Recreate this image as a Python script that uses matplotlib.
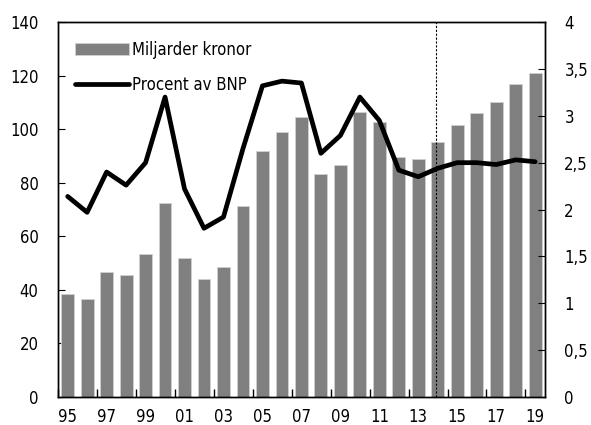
import numpy as np
import matplotlib
matplotlib.use("Agg")
import matplotlib.pyplot as plt

plt.rcParams["font.family"] = ["DejaVu Sans"]
plt.rcParams["font.stretch"] = "condensed"

# Data
years = list(range(1995, 2020))
miljarder = [38.6, 36.4, 46.5, 45.6, 53.3, 72.3, 52.0, 43.9, 48.7, 71.4,
             91.8, 99.0, 104.4, 83.2, 86.6, 106.5, 102.7, 89.5, 88.8, 95.4,
             101.4, 105.9, 110.0, 116.7, 121.1]
procent = [2.14, 1.97, 2.40, 2.26, 2.50, 3.20, 2.22, 1.80, 1.92, 2.65,
           3.32, 3.37, 3.35, 2.60, 2.79, 3.20, 2.95, 2.42, 2.35, 2.44,
           2.50, 2.50, 2.48, 2.53, 2.51]
year_labels = ["%02d" % (y % 100) for y in years]

x = np.arange(len(years))

fig = plt.figure(figsize=(5.91, 4.25), dpi=100)
ax = fig.add_axes([0.098, 0.066, 0.824, 0.882])
ax2 = ax.twinx()

bars = ax.bar(x, miljarder, width=0.66, color="#808080", edgecolor="#d0d0d0",
              linewidth=0.6, label="Miljarder kronor", zorder=2)
line, = ax2.plot(x, procent, color="black", lw=3.4, solid_capstyle="round",
                 label="Procent av BNP", zorder=3)

# dashed separator (prognos)
ax.axvline(18.92, color="black", lw=0.8, ls=(0, (2, 1.5)), zorder=4)

ax.set_xlim(-0.5, len(years) - 0.5)
ax.set_ylim(0, 140)
ax2.set_ylim(0, 4)
ax.set_yticks(range(0, 141, 20))
ax2.set_yticks(np.arange(0, 4.01, 0.5))
ax2.set_yticklabels(["0", "0,5", "1", "1,5", "2", "2,5", "3", "3,5", "4"])

# ticks between bars, labels on odd years
ax.set_xticks(np.arange(-0.5, len(years), 2))
ax.set_xticklabels([])
ax.set_xticks(x[::2], minor=True)
ax.set_xticklabels(year_labels[::2], minor=True)
ax.tick_params(axis="x", which="major", direction="in", length=6, width=1)
ax.tick_params(axis="x", which="minor", length=0, pad=8, labelsize=12)
ax.tick_params(axis="y", direction="in", length=5, labelsize=12, pad=14)
ax2.tick_params(axis="y", direction="in", length=5, labelsize=12, pad=14)

for a in (ax, ax2):
    for s in a.spines.values():
        s.set_linewidth(1.0)

ax.legend(handles=[bars, line], loc="upper left", frameon=False, fontsize=12,
          handlelength=3.2, labelspacing=1.0, handletextpad=0.2,
          bbox_to_anchor=(0.005, 0.99))

fig.savefig("out.png", dpi=100)
